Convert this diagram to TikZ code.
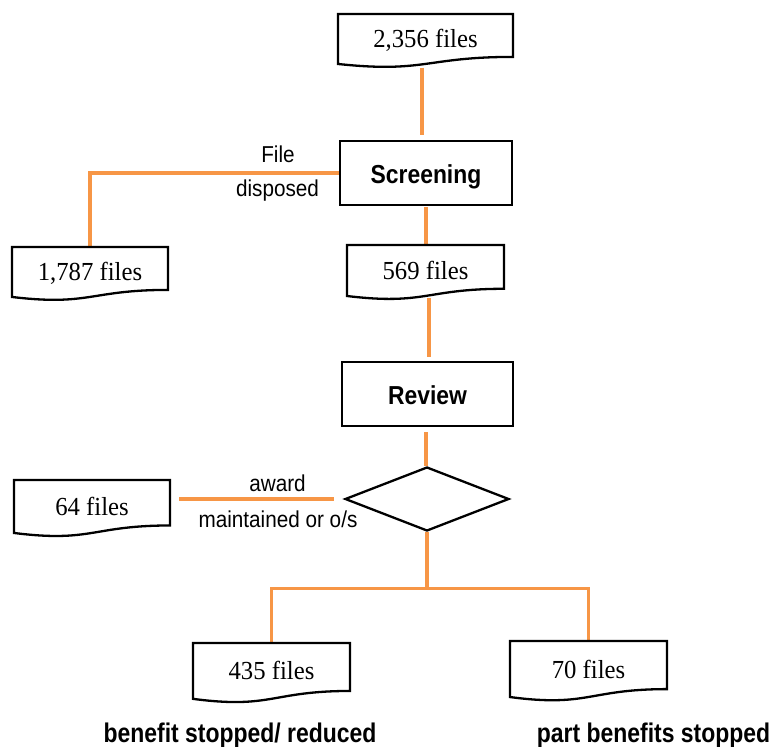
\documentclass[tikz,border=0pt]{standalone}
\usepackage{graphicx}
\usepackage{fontspec}
\setmainfont{Liberation Serif}
\newfontfamily\arialf{Liberation Sans}
\usetikzlibrary{calc,shapes.geometric}
\definecolor{orng}{RGB}{247,150,70}
\newcommand\hs[2]{\scalebox{#1}[1]{#2}}
\begin{document}
\begin{tikzpicture}[x=1pt,y=-1pt,
  oline/.style={draw=orng,line width=3.1pt},
  bline/.style={draw=black,line width=2.3pt,line join=miter},
  docnode/.style={anchor=north west,inner sep=0pt,outer sep=0pt,text height=18pt,text depth=4pt,font=\fontsize{26}{30}\selectfont},
  stepbox/.style={draw=black,line width=2.3pt,inner sep=0pt,text height=20pt,text depth=0pt,font=\arialf\bfseries\fontsize{26}{30}\selectfont},
  lbl/.style={anchor=base,inner sep=0pt,font=\arialf\fontsize{23}{27}\selectfont},
  foot/.style={anchor=base,inner sep=0pt,font=\arialf\bfseries\fontsize{27}{32}\selectfont}]
\useasboundingbox (0,0) rectangle (774,747);
\fill[white] (0,0) rectangle (774,747);

% document nodes
\node[docnode,minimum width=175pt,minimum height=53.5pt] (A) at (338,14) {\hs{0.95}{2,356 files}};
\node[docnode,minimum width=156pt,minimum height=53.5pt] (B) at (12,247) {\hs{0.95}{1,787 files}};
\node[docnode,minimum width=157pt,minimum height=54.6pt] (C) at (347,245) {\hs{0.95}{569 files}};
\node[docnode,minimum width=156pt,minimum height=56.7pt] (D) at (14,480) {\hs{0.95}{64 files}};
\node[docnode,minimum width=157pt,minimum height=59.8pt] (E) at (193,643) {\hs{0.95}{435 files}};
\node[docnode,minimum width=157pt,minimum height=60pt] (F) at (510,641) {\hs{0.95}{70 files}};

% process boxes and decision
\node[stepbox,minimum width=172pt,minimum height=64pt] (scr) at (426,173) {\hs{0.88}{Screening}};
\node[stepbox,minimum width=171pt,minimum height=64pt] (rev) at (427.5,394) {\hs{0.88}{Review}};
\node[diamond,draw=black,line width=2.3pt,inner sep=0pt,minimum width=164pt,minimum height=64pt] (dia) at (427,499) {};

% connectors
\draw[oline,shorten >=5pt] ([xshift=-3.5pt]A.south) -- ([xshift=-3.5pt]A.south |- scr.north);
\draw[oline,shorten <=1pt] (scr.south) -- (scr.south |- C.north);
\draw[oline] (scr.west) -| (B.north);
\draw[oline,shorten >=4pt] ([xshift=3.5pt,yshift=2pt]C.south) -- ([xshift=3.5pt]C.south |- rev.north);
\draw[oline,shorten <=5pt] ([xshift=-1.5pt]rev.south) -- ([xshift=-1.5pt]rev.south |- dia.north);
\draw[oline,shorten <=10pt,shorten >=9pt] (dia.west) -- (dia.west -| D.east);
\coordinate (j) at ($(dia.south)+(0,56)$);
\draw[oline] (dia.south) -- (j) -| (E.north);
\draw[oline] (j) -| (F.north);

% document outlines
\foreach \n in {A,B,C,D,E,F}{
  \draw[bline] (\n.north west) -- (\n.north east) -- ($(\n.north east)!0.802!(\n.south east)$)
    .. controls ($(\n.north)!0.802!(\n.south)$) and ($(\n.north)!1.1075!(\n.south)$) ..
    ($(\n.north west)!0.934!(\n.south west)$) -- cycle;
}

% labels
\node[lbl] (l1) at (278,162) {\hs{0.9}{File}};
\node[lbl] (l2) at (277.5,196) {\hs{0.9}{disposed}};
\node[lbl] (l3) at (277.5,491.5) {\hs{0.9}{award}};
\node[lbl] (l4) at (278,527) {\hs{0.9}{maintained or o/s}};
\node[foot] (f1) at (240,742) {\hs{0.85}{benefit stopped/ reduced}};
\node[foot] (f2) at (653.5,742) {\hs{0.85}{part benefits stopped}};
\end{tikzpicture}
\end{document}
